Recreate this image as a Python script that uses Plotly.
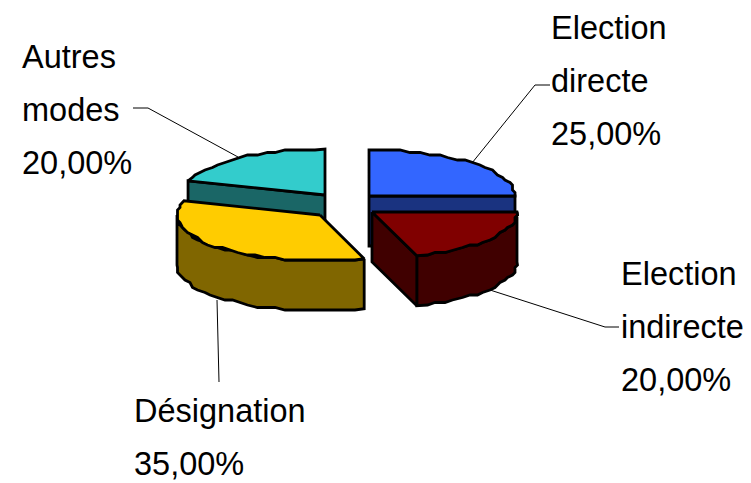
import math
import plotly.graph_objects as go

categories = ["Election directe", "Election indirecte", "Désignation", "Autres modes"]
values = [25, 20, 35, 20]
label_lines = [["Election", "directe"], ["Election", "indirecte"], ["Désignation"], ["Autres", "modes"]]

# styling / layout
top_colors = ["#3366FF", "#800000", "#FFCC00", "#33CCCC"]
side_colors = ["#1A3380", "#400000", "#806600", "#1A6666"]
centers = [(369, 196), (372, 212), (320, 215), (325, 195)]
radii_x = [146, 145, 143, 144]
label_pos = [(551, 28), (621, 274), (134, 411), (22, 57)]
leaders = [
    [(472, 163), (535, 85), (550, 85)],
    [(490, 290), (605, 327), (619, 327)],
    [(217, 300), (219, 382)],
    [(238, 157), (148, 108), (133, 108)],
]
RY, DEPTH = 46, 50
LINE_H = 53
GRID = 2.5


def pt(i, deg, dz=0):
    a = math.radians(deg)
    c = centers[i]
    return c[0] + radii_x[i] * math.sin(a), c[1] - RY * math.cos(a) + dz


def arc(i, a0, a1, dz=0):
    n = max(2, int(abs(a1 - a0) / 4))
    out = []
    for k in range(n + 1):
        x, y = pt(i, a0 + (a1 - a0) * k / n, dz)
        if 0 < k < n:
            x, y = round(x / GRID) * GRID, round(y / GRID) * GRID
        out.append((x, y))
    return out


fig = go.Figure()


def poly(points, color):
    xs = [p[0] for p in points] + [points[0][0]]
    ys = [p[1] for p in points] + [points[0][1]]
    fig.add_trace(go.Scatter(x=xs, y=ys, mode="lines", fill="toself", fillcolor=color,
                             line=dict(color="black", width=2.8), hoverinfo="skip", showlegend=False))


total = sum(values)
angles = []
s = 0
for v in values:
    angles.append((s / total * 360, (s + v) / total * 360))
    s += v


def flat_side(i, deg):
    c = centers[i]
    p = pt(i, deg)
    poly([c, p, (p[0], p[1] + DEPTH), (c[0], c[1] + DEPTH)], side_colors[i])


def top(i):
    a0, a1 = angles[i]
    poly([centers[i]] + arc(i, a0, a1), top_colors[i])


def outer(i, a0, a1):
    poly(arc(i, a0, a1) + arc(i, a1, a0, DEPTH), side_colors[i])


# back slices first
flat_side(0, angles[0][1])
top(0)
flat_side(3, angles[3][0])
top(3)
# red
outer(1, angles[1][0], angles[1][1])
flat_side(1, angles[1][1])
top(1)
# yellow
outer(2, angles[2][0], 270)
top(2)

for seg in leaders:
    fig.add_trace(go.Scatter(x=[p[0] for p in seg], y=[p[1] for p in seg], mode="lines",
                             line=dict(color="black", width=1), hoverinfo="skip", showlegend=False))

annotations = []
for lines, v, (x, y) in zip(label_lines, values, label_pos):
    for k, t in enumerate(lines + [f"{v:.2f}".replace(".", ",") + "%"]):
        annotations.append(dict(x=x, y=y + k * LINE_H, text=t, showarrow=False, xanchor="left",
                                yanchor="middle", xshift=-2,
                                font=dict(family="Liberation Sans", size=32.5, color="black")))

fig.update_layout(
    width=751, height=483, margin=dict(l=0, r=0, t=0, b=0),
    paper_bgcolor="white", plot_bgcolor="white", showlegend=False,
    xaxis=dict(range=[0, 751], visible=False, fixedrange=True),
    yaxis=dict(range=[483, 0], visible=False, fixedrange=True),
    annotations=annotations,
)
fig.write_html("out.html", config=dict(displayModeBar=False),
               post_script="document.body.style.margin='0';document.documentElement.style.overflow='hidden';")
